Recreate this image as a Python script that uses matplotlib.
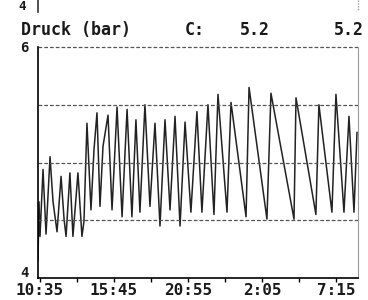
import matplotlib
matplotlib.use("Agg")
import matplotlib.pyplot as plt
from matplotlib.transforms import ScaledTranslation

# Time in hours since 10:35, pressure in bar
hours = [-0.14, -0.07, 0.00, 0.21, 0.42, 0.70, 0.91, 1.19, 1.47, 1.68,
         1.82, 2.09, 2.30, 2.65, 2.93, 3.07, 3.28, 3.56, 3.77, 3.98,
         4.19, 4.40, 4.75, 5.03, 5.38, 5.73, 6.08, 6.42, 6.70, 6.98,
         7.33, 7.68, 8.03, 8.38, 8.73, 9.08, 9.43, 9.78, 10.13, 10.54,
         10.96, 11.31, 11.73, 12.15, 12.43, 13.06, 13.34, 14.39, 14.60, 15.85,
         16.13, 17.74, 17.88, 19.27, 19.48, 20.39, 20.67, 21.23, 21.58, 21.93,
         22.14]
pressure = [4.15, 4.66, 4.36, 4.94, 4.38, 5.05, 4.66, 4.40, 4.88, 4.51,
            4.36, 4.91, 4.36, 4.91, 4.36, 4.49, 5.34, 4.59, 5.11, 5.43,
            4.62, 5.14, 5.41, 4.59, 5.48, 4.53, 5.46, 4.53, 5.37, 4.57,
            5.50, 4.62, 5.34, 4.45, 5.37, 4.59, 5.40, 4.45, 5.35, 4.57,
            5.44, 4.57, 5.50, 4.55, 5.59, 4.57, 5.52, 4.53, 5.65, 4.51,
            5.60, 4.51, 5.56, 4.55, 5.50, 4.57, 5.59, 4.57, 5.40, 4.57,
            5.26]

tick_step = 155 / 60  # 2 h 35 min between tick marks
tick_labels = ["10:35", "15:45", "20:55", "2:05", "7:15"]
grid_levels = [4.5, 5.0, 5.5, 6.0]

mono = {"family": "DejaVu Sans Mono", "weight": "bold", "color": "#1a1a1a"}

fig = plt.figure(figsize=(3.68, 3.00), dpi=100)
ax = fig.add_axes([38 / 368, 1 - 278 / 300, 320 / 368, 231 / 300])

ax.plot(hours, pressure, color="#222222", lw=1.1)

ax.set_xlim(-0.14, 22.21)
ax.set_ylim(4, 6)

# dashed horizontal levels, the top one doubles as the frame
for lvl in grid_levels:
    ax.axhline(lvl, color="#555555", lw=0.9, ls=(0, (3, 1.6)), clip_on=False)

ax.spines["top"].set_visible(False)
ax.spines["right"].set_color("#9a9a9a")
ax.spines["right"].set_linestyle((0, (1, 1)))
ax.spines["left"].set_linewidth(1.2)
ax.spines["bottom"].set_linewidth(1.2)

ticks = [i * tick_step for i in range(9)]
ax.set_xticks(ticks)
ax.set_xticklabels([tick_labels[i // 2] if i % 2 == 0 else "" for i in range(9)],
                   fontdict=mono, fontsize=11.5)
ax.tick_params(axis="x", direction="out", length=3, width=1, pad=0.5)
ax.set_yticks([4, 6])
ax.set_yticklabels(["4", "6"], fontdict=mono, fontsize=10)
ax.tick_params(axis="y", length=0, pad=7)

# the bottom "4" sits a little above the axis line, as on the screen
low = ax.get_yticklabels()[0]
low.set_transform(low.get_transform() + ScaledTranslation(0, 5 / 72, fig.dpi_scale_trans))

# header line of the instrument screen
fig.text(21 / 368, 1 - 30 / 300, "Druck (bar)", fontsize=12, va="center", **mono)
fig.text(185 / 368, 1 - 30 / 300, "C:", fontsize=12, va="center", **mono)
fig.text(240 / 368, 1 - 30 / 300, "5.2", fontsize=12, va="center", **mono)
fig.text(364 / 368, 1 - 30 / 300, "5.2", fontsize=12, va="center", ha="right", **mono)

# remnant of the panel above
fig.text(18 / 368, 1 - 6 / 300, "4", fontsize=9, va="center", **mono)
fig.add_artist(plt.Line2D([38 / 368, 38 / 368], [1, 1 - 12 / 300], color="#333333", lw=1.2))
fig.add_artist(plt.Line2D([358 / 368, 358 / 368], [1, 1 - 10 / 300], color="#9a9a9a",
                          lw=1, ls=(0, (1, 1))))

fig.savefig("out.png", dpi=100)
